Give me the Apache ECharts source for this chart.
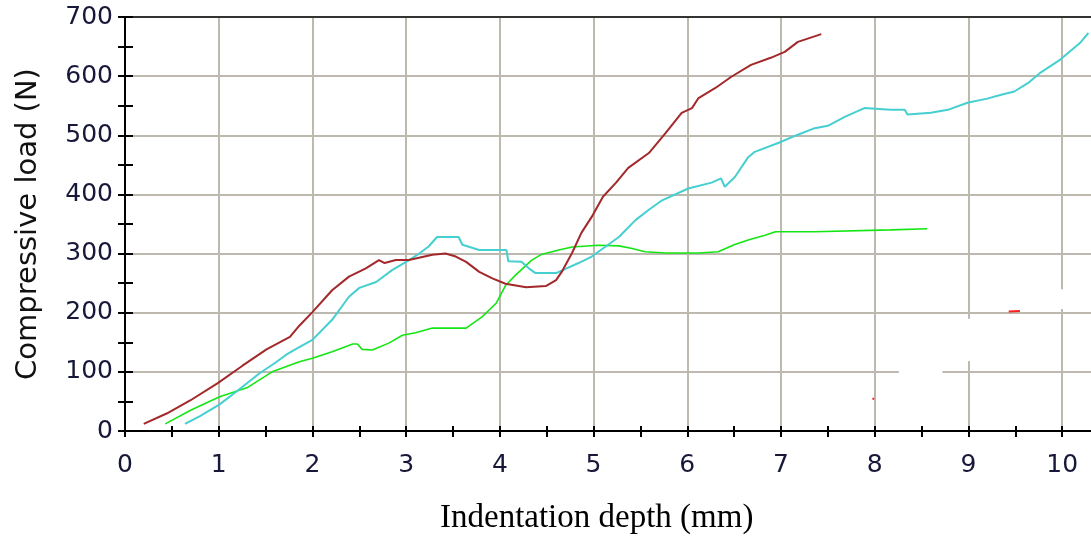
<!DOCTYPE html>
<html><head><meta charset="utf-8">
<script src="https://cdn.jsdelivr.net/npm/echarts@6/dist/echarts.min.js"></script>
<style>html,body{margin:0;padding:0;background:#fff;overflow:hidden;width:1091px;height:537px}#c{width:1112px;height:537px}</style>
</head><body><div id="c"></div>
<script>
var xTicks = [0,1,2,3,4,5,6,7,8,9,10];
var yTicks = [0,100,200,300,400,500,600,700];
var xTitle = 'Indentation depth (mm)';
var yTitle = 'Compressive load (N)';

var redCurve = [[0.20,12],[0.45,30],[0.7,52],[0.99,81],[1.25,110],[1.51,138],[1.76,159],[1.86,178],[2.0,201],[2.21,238],[2.39,261],[2.57,275],[2.71,289],[2.77,284],[2.89,289],[3.03,289],[3.28,298],[3.42,300],[3.53,295],[3.64,286],[3.78,269],[3.92,258],[4.06,249],[4.28,243],[4.49,245],[4.6,255],[4.66,269],[4.77,301],[4.87,335],[4.98,362],[5.1,396],[5.24,420],[5.37,445],[5.59,470],[5.77,504],[5.94,538],[6.05,546],[6.12,563],[6.3,580],[6.47,599],[6.68,619],[6.89,631],[7.04,641],[7.18,658],[7.43,671]];
var cyanCurve = [[0.64,12],[0.8,25],[1.01,45],[1.2,68],[1.44,98],[1.6,115],[1.72,129],[1.86,142],[2.0,154],[2.21,188],[2.39,227],[2.5,242],[2.68,252],[2.85,272],[3.0,286],[3.14,300],[3.24,312],[3.33,328],[3.56,328],[3.6,315],[3.78,306],[4.07,306],[4.09,287],[4.23,286],[4.31,275],[4.38,267],[4.6,267],[4.7,274],[4.84,284],[4.98,295],[5.13,312],[5.27,328],[5.45,357],[5.59,374],[5.72,389],[6.01,410],[6.26,420],[6.36,427],[6.4,413],[6.51,430],[6.65,463],[6.72,472],[6.97,487],[7.18,501],[7.36,512],[7.5,516],[7.68,531],[7.89,546],[8.17,543],[8.32,543],[8.35,535],[8.6,538],[8.78,543],[8.99,555],[9.2,562],[9.34,568],[9.49,574],[9.65,590],[9.77,606],[9.98,628],[10.19,656],[10.28,673]];
var greenCurve = [[0.43,12],[0.7,35],[1.01,58],[1.3,73],[1.57,100],[1.86,117],[2.0,123],[2.21,134],[2.43,147],[2.48,147],[2.53,138],[2.64,137],[2.82,149],[2.96,162],[3.1,166],[3.28,174],[3.64,174],[3.81,193],[3.96,216],[4.06,246],[4.17,264],[4.34,289],[4.45,299],[4.63,306],[4.77,311],[5.05,314],[5.27,313],[5.4,309],[5.55,303],[5.77,301],[6.12,301],[6.33,303],[6.5,315],[6.65,323],[6.83,331],[6.94,337],[7.36,337],[8.17,340],[8.56,342]];
var redSpecks = [[7.98,53],[7.99,56],null,[9.43,202],[9.55,203]];

var el = document.getElementById('c');
var chart = echarts.init(el, null, {renderer:'canvas', width:1112, height:537});
var labelColor = '#17173a';
var gridCol = '#bdb9ae';
var commonX = {type:'value', min:0, max:10.5, gridIndex:0};
var commonY = {type:'value', min:0, max:700, gridIndex:0};
chart.setOption({
  animation:false,
  backgroundColor:'#fff',
  grid:{left:125, top:17, right:0, bottom:106, containLabel:false},
  xAxis:[
    Object.assign({}, commonX, {position:'bottom', interval:1,
      axisLine:{show:true, onZero:false, lineStyle:{color:'#000', width:2}},
      axisTick:{show:false},
      splitLine:{show:true, lineStyle:{color:gridCol, width:2}},
      axisLabel:{show:true, margin:22, color:labelColor, fontFamily:'DejaVu Sans', fontSize:25,
        formatter:function(v){ return xTicks.indexOf(v) >= 0 ? String(v) : ''; }}}),
    Object.assign({}, commonX, {position:'bottom', interval:0.5,
      axisLine:{show:false, onZero:false}, axisLabel:{show:false}, splitLine:{show:false},
      axisTick:{show:true, inside:false, length:6, lineStyle:{color:'#000', width:2}}}),
    Object.assign({}, commonX, {position:'bottom', interval:0.5,
      axisLine:{show:false, onZero:false}, axisLabel:{show:false}, splitLine:{show:false},
      axisTick:{show:true, inside:true, length:5, lineStyle:{color:'#000', width:2}}}),
    Object.assign({}, commonX, {position:'top', interval:1,
      axisLine:{show:true, onZero:false, lineStyle:{color:'#333', width:2}},
      axisLabel:{show:false}, axisTick:{show:false}, splitLine:{show:false}})
  ],
  yAxis:[
    Object.assign({}, commonY, {position:'left', interval:100,
      axisLine:{show:true, onZero:false, lineStyle:{color:'#000', width:2}},
      axisTick:{show:false},
      splitLine:{show:true, lineStyle:{color:gridCol, width:2}},
      axisLabel:{show:true, margin:12, color:labelColor, fontFamily:'DejaVu Sans', fontSize:25,
        formatter:function(v){ return yTicks.indexOf(v) >= 0 ? String(v) : ''; }},
      name:yTitle, nameLocation:'middle', nameGap:82,
      nameTextStyle:{color:'#111', fontFamily:'DejaVu Sans', fontSize:29}}),
    Object.assign({}, commonY, {position:'left', interval:50,
      axisLine:{show:false, onZero:false}, axisLabel:{show:false}, splitLine:{show:false},
      axisTick:{show:true, inside:false, length:7, lineStyle:{color:'#000', width:2}}}),
    Object.assign({}, commonY, {position:'left', interval:50,
      axisLine:{show:false, onZero:false}, axisLabel:{show:false}, splitLine:{show:false},
      axisTick:{show:true, inside:true, length:8, lineStyle:{color:'#000', width:2}}})
  ],
  series:[
    {type:'line', data:greenCurve, showSymbol:false, symbol:'none', lineStyle:{color:'#14e614', width:1.6}, z:3},
    {type:'line', data:cyanCurve, showSymbol:false, symbol:'none', lineStyle:{color:'#45cfd0', width:2}, z:4},
    {type:'line', data:redCurve, showSymbol:false, symbol:'none', lineStyle:{color:'#a3282b', width:2}, z:5},
    {type:'line', data:redSpecks, showSymbol:false, symbol:'none', connectNulls:false, lineStyle:{color:'#ff2020', width:2}, z:5}
  ]
});

// white patches (scan artifacts) over a few grid lines, positioned in data space
var patches = [
  {a:[8.30,100], b:[8.68,100], pad:4},
  {a:[9,183], b:[9,125], pad:4},
  {a:[10,233], b:[10,213], pad:4}
];
var gfx = patches.map(function(p){
  var A = chart.convertToPixel({gridIndex:0}, p.a);
  var B = chart.convertToPixel({gridIndex:0}, p.b);
  var x0 = Math.min(A[0],B[0]) - p.pad, y0 = Math.min(A[1],B[1]) - p.pad;
  return {type:'rect', z:1, silent:true,
    shape:{x:x0, y:y0, width:Math.abs(A[0]-B[0]) + 2*p.pad, height:Math.abs(A[1]-B[1]) + 2*p.pad},
    style:{fill:'#fff'}};
});
gfx.push({type:'text', left:440, top:502, z:10, silent:true,
  style:{text:xTitle, fill:'#000', font:'33px "Liberation Serif", "Times New Roman", serif'}});
chart.setOption({graphic:gfx});
</script>
</body></html>
